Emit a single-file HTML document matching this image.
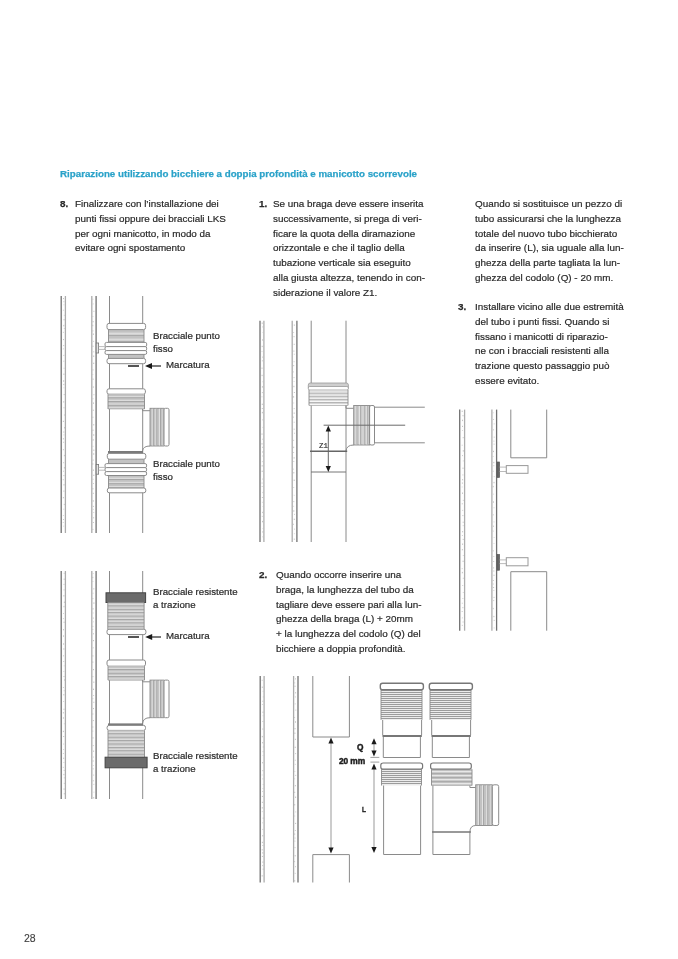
<!DOCTYPE html>
<html><head><meta charset="utf-8">
<style>
html,body{margin:0;padding:0;background:#fff;}
body{width:678px;height:959px;position:relative;overflow:hidden;font-family:"Liberation Sans",sans-serif;color:#2e2e2e;}
.t{position:absolute;font-size:9.9px;line-height:14.75px;white-space:nowrap;will-change:transform;-webkit-text-stroke:0.2px #262626;color:#2a2a2a;}
.n{position:absolute;font-size:9.9px;font-weight:bold;line-height:14.75px;will-change:transform;color:#2a2a2a;-webkit-text-stroke:0.25px #262626;}
.h{position:absolute;left:59.5px;top:167px;font-size:9.75px;will-change:transform;-webkit-text-stroke:0.25px #2aa2c9;font-weight:bold;color:#2aa2c9;white-space:nowrap;line-height:14px;}
.lbl{position:absolute;font-size:9.7px;line-height:12.6px;white-space:nowrap;color:#2a2a2a;will-change:transform;-webkit-text-stroke:0.2px #262626;}
.dim{position:absolute;font-size:8px;font-weight:bold;white-space:nowrap;color:#1e1e1e;line-height:10px;will-change:transform;-webkit-text-stroke:0.45px #1e1e1e;}
svg{position:absolute;left:0;top:0;}
</style></head><body><div id="w" style="position:absolute;left:0;top:0;width:678px;height:959px;filter:blur(0.35px)">
<svg width="678" height="959" viewBox="0 0 678 959">
<line x1="65.4" y1="296" x2="65.4" y2="533" stroke="#acacac" stroke-width="1.3"/>
<line x1="61.2" y1="296" x2="61.2" y2="533" stroke="#707070" stroke-width="1.3"/>
<path d="M63.5,298.0v1.1M63.9,301.3v0.9M63.9,304.6v0.6M63.4,309.8v0.7M64.3,314.9v0.7M64.1,319.0v1.4M63.8,324.9v1.4M64.3,328.1v0.8M63.4,331.9v0.8M63.5,339.0v1.1M63.7,345.1v1.0M63.4,348.5v0.8M63.8,354.9v0.9M63.8,360.8v0.8M64.1,367.8v0.8M63.9,373.6v1.3M63.6,380.3v1.4M63.8,383.9v1.2M63.9,387.6v0.6M64.2,394.0v1.1M63.7,401.3v1.2M64.0,407.3v1.0M64.4,414.5v1.0M63.4,420.8v1.2M64.5,427.1v1.3M63.8,431.5v1.1M63.9,434.6v0.7M63.4,438.2v1.2M63.6,441.8v0.9M63.4,449.2v1.0M64.4,454.9v1.3M63.6,462.3v0.9M64.4,467.1v1.4M63.5,470.8v0.8M63.9,475.0v1.1M63.3,479.3v0.9M64.0,484.1v1.4M63.9,490.6v1.1M63.4,497.0v1.3M64.3,503.9v1.2M63.8,508.8v0.7M63.4,515.0v0.7M63.5,519.1v0.9M63.3,522.3v0.7M63.7,525.8v0.6" stroke="#bdbdbd" stroke-width="0.9" fill="none"/>
<line x1="91.8" y1="296" x2="91.8" y2="533" stroke="#acacac" stroke-width="1.3"/>
<line x1="96.1" y1="296" x2="96.1" y2="533" stroke="#707070" stroke-width="1.3"/>
<path d="M92.9,298.8v0.8M93.2,303.6v0.7M93.9,310.8v1.0M92.9,316.2v0.7M93.1,321.0v1.3M92.8,324.8v1.4M92.9,330.4v1.0M93.4,333.5v1.4M93.6,340.9v0.8M93.0,345.7v1.2M93.7,351.4v0.9M93.7,355.5v1.4M93.7,362.7v1.3M93.0,369.4v1.0M92.8,374.2v0.6M93.1,378.6v1.2M93.3,386.4v1.3M93.9,394.3v0.9M93.0,398.4v0.8M93.5,402.5v1.3M93.3,409.7v1.1M92.9,416.7v1.1M93.7,424.2v1.2M93.0,429.6v1.2M93.7,434.3v1.4M93.2,439.2v1.4M93.0,445.9v0.7M93.8,449.6v1.2M93.7,453.3v1.4M93.2,459.6v1.0M92.8,463.3v1.4M93.4,469.5v1.3M93.8,474.7v1.3M93.1,478.8v0.8M93.5,483.0v0.8M92.9,488.1v1.3M93.3,492.8v1.1M93.3,500.3v1.3M93.4,505.9v1.0M93.3,508.9v0.7M93.7,512.0v0.7M93.6,517.3v1.0M93.4,522.0v1.0M92.9,528.9v1.0" stroke="#bdbdbd" stroke-width="0.9" fill="none"/>
<line x1="109.5" y1="296" x2="109.5" y2="533" stroke="#8a8a8a" stroke-width="1.0"/>
<line x1="142.7" y1="296" x2="142.7" y2="533" stroke="#8a8a8a" stroke-width="1.0"/>
<rect x="108.5" y="329.6" width="35.5" height="12.799999999999955" fill="#c2c2c2" stroke="none"/>
<rect x="108.5" y="332.6" width="35.5" height="2.28" fill="#dcdcdc"/>
<rect x="108.5" y="334.88" width="35.5" height="0.7" fill="#999"/>
<rect x="108.5" y="338.6" width="35.5" height="2.28" fill="#dcdcdc"/>
<rect x="108.5" y="340.88" width="35.5" height="0.7" fill="#999"/>
<line x1="108.5" y1="329.6" x2="108.5" y2="342.4" stroke="#8a8a8a" stroke-width="0.9"/>
<line x1="144" y1="329.6" x2="144" y2="342.4" stroke="#8a8a8a" stroke-width="0.9"/>
<rect x="108.5" y="354.4" width="35.5" height="4.0" fill="#c2c2c2" stroke="none"/>
<line x1="108.5" y1="354.4" x2="108.5" y2="358.4" stroke="#8a8a8a" stroke-width="0.9"/>
<line x1="144" y1="354.4" x2="144" y2="358.4" stroke="#8a8a8a" stroke-width="0.9"/>
<rect x="107" y="323.4" width="38.6" height="6.2" fill="#fff" stroke="#8a8a8a" stroke-width="1.0" rx="2"/>
<rect x="105" y="342.4" width="41.7" height="4.2" fill="#fff" stroke="#8a8a8a" stroke-width="1.0" rx="1.5"/>
<rect x="105" y="346.6" width="41.7" height="4.0" fill="#fff" stroke="#8a8a8a" stroke-width="1.0" rx="1.5"/>
<rect x="105" y="350.6" width="41.7" height="3.8" fill="#fff" stroke="#8a8a8a" stroke-width="1.0" rx="1.5"/>
<rect x="107" y="358.4" width="38.6" height="5.3" fill="#fff" stroke="#8a8a8a" stroke-width="1.0" rx="2"/>
<rect x="96.2" y="343" width="2.4" height="10" fill="#e8e8e8" stroke="#777" stroke-width="0.8" rx="0"/>
<line x1="98.6" y1="346.6" x2="105" y2="346.6" stroke="#aaa" stroke-width="0.8"/>
<line x1="98.6" y1="349.4" x2="105" y2="349.4" stroke="#aaa" stroke-width="0.8"/>
<rect x="128" y="365" width="11" height="2" fill="#555"/>
<line x1="148" y1="366" x2="161" y2="366" stroke="#222" stroke-width="1.2"/>
<polygon points="145,366 152.0,363.0 152.0,369.0" fill="#1a1a1a"/>
<rect x="107" y="388.8" width="38.4" height="5.4" fill="#fff" stroke="#8a8a8a" stroke-width="1.0" rx="2"/>
<rect x="108" y="394.2" width="36.5" height="14.800000000000011" fill="#c2c2c2" stroke="none"/>
<rect x="108" y="396.05" width="36.5" height="1.41" fill="#dcdcdc"/>
<rect x="108" y="397.46" width="36.5" height="0.7" fill="#999"/>
<rect x="108" y="399.75" width="36.5" height="1.41" fill="#dcdcdc"/>
<rect x="108" y="401.16" width="36.5" height="0.7" fill="#999"/>
<rect x="108" y="403.45" width="36.5" height="1.41" fill="#dcdcdc"/>
<rect x="108" y="404.86" width="36.5" height="0.7" fill="#999"/>
<rect x="108" y="407.15" width="36.5" height="1.41" fill="#dcdcdc"/>
<rect x="108" y="408.56" width="36.5" height="0.7" fill="#999"/>
<line x1="108" y1="394.2" x2="108" y2="409" stroke="#8a8a8a" stroke-width="0.9"/>
<line x1="144.5" y1="394.2" x2="144.5" y2="409" stroke="#8a8a8a" stroke-width="0.9"/>
<path d="M142.5,409 V410.7 H150" fill="none" stroke="#8a8a8a" stroke-width="1"/>
<rect x="150" y="408.3" width="14" height="37.69999999999999" fill="#c4c4c4" stroke="#8a8a8a" stroke-width="0.9"/>
<rect x="151.8" y="408.8" width="1.08" height="36.69999999999999" fill="#e0e0e0"/>
<rect x="152.88" y="408.8" width="0.7" height="36.69999999999999" fill="#999"/>
<rect x="155.4" y="408.8" width="1.08" height="36.69999999999999" fill="#e0e0e0"/>
<rect x="156.48" y="408.8" width="0.7" height="36.69999999999999" fill="#999"/>
<rect x="159.0" y="408.8" width="1.08" height="36.69999999999999" fill="#e0e0e0"/>
<rect x="160.08" y="408.8" width="0.7" height="36.69999999999999" fill="#999"/>
<rect x="162.6" y="408.8" width="1.08" height="36.69999999999999" fill="#e0e0e0"/>
<rect x="163.68" y="408.8" width="0.7" height="36.69999999999999" fill="#999"/>
<rect x="164" y="408.3" width="5" height="37.7" fill="#fff" stroke="#8a8a8a" stroke-width="1.0" rx="1.5"/>
<path d="M142.5,451 Q143,446 150,446" fill="none" stroke="#8a8a8a" stroke-width="1"/>
<rect x="108" y="451" width="35" height="2.4" fill="#7a7a7a"/>
<rect x="108.5" y="459.2" width="35.5" height="4.400000000000034" fill="#c2c2c2" stroke="none"/>
<line x1="108.5" y1="459.2" x2="108.5" y2="463.6" stroke="#8a8a8a" stroke-width="0.9"/>
<line x1="144" y1="459.2" x2="144" y2="463.6" stroke="#8a8a8a" stroke-width="0.9"/>
<rect x="108.5" y="475.5" width="35.5" height="12.5" fill="#c2c2c2" stroke="none"/>
<rect x="108.5" y="477.6" width="35.5" height="1.6" fill="#dcdcdc"/>
<rect x="108.5" y="479.2" width="35.5" height="0.7" fill="#999"/>
<rect x="108.5" y="481.8" width="35.5" height="1.6" fill="#dcdcdc"/>
<rect x="108.5" y="483.4" width="35.5" height="0.7" fill="#999"/>
<rect x="108.5" y="486.0" width="35.5" height="1.6" fill="#dcdcdc"/>
<rect x="108.5" y="487.6" width="35.5" height="0.7" fill="#999"/>
<line x1="108.5" y1="475.5" x2="108.5" y2="488" stroke="#8a8a8a" stroke-width="0.9"/>
<line x1="144" y1="475.5" x2="144" y2="488" stroke="#8a8a8a" stroke-width="0.9"/>
<rect x="107.3" y="453.4" width="38.5" height="5.8" fill="#fff" stroke="#8a8a8a" stroke-width="1.0" rx="2"/>
<rect x="105" y="463.6" width="41.6" height="4.0" fill="#fff" stroke="#8a8a8a" stroke-width="1.0" rx="1.5"/>
<rect x="105" y="467.6" width="41.6" height="4.0" fill="#fff" stroke="#8a8a8a" stroke-width="1.0" rx="1.5"/>
<rect x="105" y="471.6" width="41.6" height="3.9" fill="#fff" stroke="#8a8a8a" stroke-width="1.0" rx="1.5"/>
<rect x="107.3" y="488" width="38.5" height="4.8" fill="#fff" stroke="#8a8a8a" stroke-width="1.0" rx="2"/>
<rect x="96.2" y="464.5" width="2.4" height="9.7" fill="#e8e8e8" stroke="#777" stroke-width="0.8" rx="0"/>
<line x1="98.6" y1="467.4" x2="105" y2="467.4" stroke="#aaa" stroke-width="0.8"/>
<line x1="98.6" y1="470.2" x2="105" y2="470.2" stroke="#aaa" stroke-width="0.8"/>
<line x1="65.4" y1="571" x2="65.4" y2="799" stroke="#acacac" stroke-width="1.3"/>
<line x1="61.2" y1="571" x2="61.2" y2="799" stroke="#707070" stroke-width="1.3"/>
<path d="M64.2,572.8v1.0M64.2,578.6v1.3M64.0,583.9v1.0M64.1,589.4v1.0M63.9,595.1v1.4M64.4,601.6v1.4M64.0,605.9v1.4M63.5,613.1v0.7M63.4,618.3v0.8M64.1,621.7v1.2M63.5,629.1v1.2M63.5,635.4v1.3M63.6,643.3v1.4M63.9,648.3v1.4M63.5,655.4v0.9M63.7,661.0v0.8M64.2,665.6v0.6M63.8,671.4v0.6M64.0,676.0v1.0M64.5,679.4v1.2M63.4,687.2v0.8M64.2,690.4v0.8M63.8,694.1v1.3M63.6,701.1v0.7M64.0,708.7v1.2M63.4,712.2v1.2M63.4,717.3v1.4M64.3,723.5v0.7M63.4,730.8v1.3M63.7,736.0v1.0M63.6,743.7v0.7M63.6,749.3v0.7M63.4,753.1v0.8M63.7,757.7v1.2M63.9,762.1v0.7M63.3,766.9v0.8M64.2,769.9v1.0M63.9,773.9v1.3M64.3,777.4v0.9M64.3,782.9v0.9M64.1,788.4v1.4M64.3,793.1v1.2" stroke="#bdbdbd" stroke-width="0.9" fill="none"/>
<line x1="91.8" y1="571" x2="91.8" y2="799" stroke="#acacac" stroke-width="1.3"/>
<line x1="96.1" y1="571" x2="96.1" y2="799" stroke="#707070" stroke-width="1.3"/>
<path d="M93.2,573.2v0.6M92.8,576.9v1.2M92.9,581.1v0.7M93.8,588.3v1.1M93.0,592.8v0.8M92.9,598.1v1.0M93.9,602.4v1.4M93.0,608.1v1.4M93.2,612.7v0.6M93.3,617.6v1.0M93.4,621.6v0.6M92.9,625.9v0.9M92.8,629.1v0.8M93.5,633.3v1.0M93.5,640.0v1.2M93.2,647.4v0.9M92.9,655.3v1.2M92.8,661.5v1.3M93.5,669.0v1.2M92.9,676.1v1.0M93.8,681.6v1.2M93.5,688.7v1.3M93.6,695.1v0.8M92.9,698.3v0.9M93.8,701.8v1.0M93.5,708.0v1.1M92.8,713.4v1.2M93.4,720.1v1.0M92.8,726.4v1.2M92.8,730.7v0.8M93.0,737.3v1.2M93.3,745.2v0.9M93.6,750.6v1.2M93.5,756.7v0.7M93.1,760.4v1.2M93.4,765.0v0.6M93.1,768.3v1.1M93.6,774.7v0.8M93.3,780.3v1.0M93.8,783.9v0.8M93.9,791.8v0.6M93.7,797.1v1.4" stroke="#bdbdbd" stroke-width="0.9" fill="none"/>
<line x1="109.5" y1="571" x2="109.5" y2="799" stroke="#8a8a8a" stroke-width="1.0"/>
<line x1="142.7" y1="571" x2="142.7" y2="799" stroke="#8a8a8a" stroke-width="1.0"/>
<rect x="106" y="592.8" width="39.6" height="9.7" fill="#6b6b6b" stroke="#444" stroke-width="1" rx="0"/>
<rect x="107.8" y="602.5" width="36.3" height="26.700000000000045" fill="#cacaca" stroke="none"/>
<rect x="107.8" y="604.2" width="36.3" height="1.29" fill="#dcdcdc"/>
<rect x="107.8" y="605.49" width="36.3" height="0.7" fill="#999"/>
<rect x="107.8" y="607.6" width="36.3" height="1.29" fill="#dcdcdc"/>
<rect x="107.8" y="608.89" width="36.3" height="0.7" fill="#999"/>
<rect x="107.8" y="611.0" width="36.3" height="1.29" fill="#dcdcdc"/>
<rect x="107.8" y="612.29" width="36.3" height="0.7" fill="#999"/>
<rect x="107.8" y="614.4" width="36.3" height="1.29" fill="#dcdcdc"/>
<rect x="107.8" y="615.69" width="36.3" height="0.7" fill="#999"/>
<rect x="107.8" y="617.8" width="36.3" height="1.29" fill="#dcdcdc"/>
<rect x="107.8" y="619.09" width="36.3" height="0.7" fill="#999"/>
<rect x="107.8" y="621.2" width="36.3" height="1.29" fill="#dcdcdc"/>
<rect x="107.8" y="622.49" width="36.3" height="0.7" fill="#999"/>
<rect x="107.8" y="624.6" width="36.3" height="1.29" fill="#dcdcdc"/>
<rect x="107.8" y="625.89" width="36.3" height="0.7" fill="#999"/>
<rect x="107.8" y="628.0" width="36.3" height="1.29" fill="#dcdcdc"/>
<rect x="107.8" y="629.29" width="36.3" height="0.7" fill="#999"/>
<line x1="107.8" y1="602.5" x2="107.8" y2="629.2" stroke="#8a8a8a" stroke-width="0.9"/>
<line x1="144.1" y1="602.5" x2="144.1" y2="629.2" stroke="#8a8a8a" stroke-width="0.9"/>
<rect x="107" y="629.2" width="38.9" height="5.4" fill="#fff" stroke="#8a8a8a" stroke-width="1.0" rx="2"/>
<rect x="128" y="636" width="11" height="2" fill="#555"/>
<line x1="148" y1="637" x2="161" y2="637" stroke="#222" stroke-width="1.2"/>
<polygon points="145.2,637 152.2,634.0 152.2,640.0" fill="#1a1a1a"/>
<rect x="107" y="660" width="38.5" height="6.2" fill="#fff" stroke="#8a8a8a" stroke-width="1.0" rx="2"/>
<rect x="108" y="666.2" width="36.5" height="13.899999999999977" fill="#c4c4c4" stroke="none"/>
<rect x="108" y="667.95" width="36.5" height="1.33" fill="#dcdcdc"/>
<rect x="108" y="669.28" width="36.5" height="0.7" fill="#999"/>
<rect x="108" y="671.45" width="36.5" height="1.33" fill="#dcdcdc"/>
<rect x="108" y="672.78" width="36.5" height="0.7" fill="#999"/>
<rect x="108" y="674.95" width="36.5" height="1.33" fill="#dcdcdc"/>
<rect x="108" y="676.28" width="36.5" height="0.7" fill="#999"/>
<rect x="108" y="678.45" width="36.5" height="1.33" fill="#dcdcdc"/>
<rect x="108" y="679.78" width="36.5" height="0.7" fill="#999"/>
<line x1="108" y1="666.2" x2="108" y2="680.1" stroke="#8a8a8a" stroke-width="0.9"/>
<line x1="144.5" y1="666.2" x2="144.5" y2="680.1" stroke="#8a8a8a" stroke-width="0.9"/>
<path d="M142.5,680.1 V681.8 H150" fill="none" stroke="#8a8a8a" stroke-width="1"/>
<rect x="150" y="680.1" width="14" height="37.60000000000002" fill="#c4c4c4" stroke="#8a8a8a" stroke-width="0.9"/>
<rect x="151.8" y="680.6" width="1.08" height="36.60000000000002" fill="#e0e0e0"/>
<rect x="152.88" y="680.6" width="0.7" height="36.60000000000002" fill="#999"/>
<rect x="155.4" y="680.6" width="1.08" height="36.60000000000002" fill="#e0e0e0"/>
<rect x="156.48" y="680.6" width="0.7" height="36.60000000000002" fill="#999"/>
<rect x="159.0" y="680.6" width="1.08" height="36.60000000000002" fill="#e0e0e0"/>
<rect x="160.08" y="680.6" width="0.7" height="36.60000000000002" fill="#999"/>
<rect x="162.6" y="680.6" width="1.08" height="36.60000000000002" fill="#e0e0e0"/>
<rect x="163.68" y="680.6" width="0.7" height="36.60000000000002" fill="#999"/>
<rect x="164" y="680.1" width="5" height="37.6" fill="#fff" stroke="#8a8a8a" stroke-width="1.0" rx="1.5"/>
<path d="M142.5,723.6 Q143,717.7 150,717.7" fill="none" stroke="#8a8a8a" stroke-width="1"/>
<rect x="108" y="723.4" width="35" height="2.2" fill="#7a7a7a"/>
<rect x="107.1" y="725.4" width="38.4" height="5" fill="#fff" stroke="#8a8a8a" stroke-width="1.0" rx="2"/>
<rect x="108" y="730.4" width="36.5" height="26.800000000000068" fill="#cacaca" stroke="none"/>
<rect x="108" y="732.1" width="36.5" height="1.29" fill="#dcdcdc"/>
<rect x="108" y="733.39" width="36.5" height="0.7" fill="#999"/>
<rect x="108" y="735.5" width="36.5" height="1.29" fill="#dcdcdc"/>
<rect x="108" y="736.79" width="36.5" height="0.7" fill="#999"/>
<rect x="108" y="738.9" width="36.5" height="1.29" fill="#dcdcdc"/>
<rect x="108" y="740.19" width="36.5" height="0.7" fill="#999"/>
<rect x="108" y="742.3" width="36.5" height="1.29" fill="#dcdcdc"/>
<rect x="108" y="743.59" width="36.5" height="0.7" fill="#999"/>
<rect x="108" y="745.7" width="36.5" height="1.29" fill="#dcdcdc"/>
<rect x="108" y="746.99" width="36.5" height="0.7" fill="#999"/>
<rect x="108" y="749.1" width="36.5" height="1.29" fill="#dcdcdc"/>
<rect x="108" y="750.39" width="36.5" height="0.7" fill="#999"/>
<rect x="108" y="752.5" width="36.5" height="1.29" fill="#dcdcdc"/>
<rect x="108" y="753.79" width="36.5" height="0.7" fill="#999"/>
<rect x="108" y="755.9" width="36.5" height="1.29" fill="#dcdcdc"/>
<rect x="108" y="757.19" width="36.5" height="0.7" fill="#999"/>
<line x1="108" y1="730.4" x2="108" y2="757.2" stroke="#8a8a8a" stroke-width="0.9"/>
<line x1="144.5" y1="730.4" x2="144.5" y2="757.2" stroke="#8a8a8a" stroke-width="0.9"/>
<rect x="105.1" y="757.2" width="42" height="10.6" fill="#6b6b6b" stroke="#444" stroke-width="1" rx="0"/>
<line x1="263.9" y1="320.7" x2="263.9" y2="542" stroke="#acacac" stroke-width="1.3"/>
<line x1="260" y1="320.7" x2="260" y2="542" stroke="#707070" stroke-width="1.3"/>
<path d="M262.2,322.5v1.4M262.6,326.6v0.7M263.1,332.2v0.7M262.6,339.3v1.3M262.2,345.8v1.3M262.0,351.2v0.6M262.5,356.7v0.8M262.4,360.4v0.9M262.0,367.6v1.2M262.1,374.8v1.3M263.0,381.4v0.8M262.4,386.2v1.4M262.4,392.2v0.9M262.0,396.5v0.7M262.3,403.7v1.3M262.3,408.0v1.0M262.4,411.9v1.4M262.9,419.3v1.1M263.1,426.9v1.0M262.0,433.5v1.2M262.9,438.7v1.1M262.0,443.2v1.3M262.5,446.8v0.9M262.8,451.3v1.4M262.7,455.6v0.8M262.4,461.4v0.7M262.2,465.2v1.3M262.2,470.7v1.3M262.5,478.7v0.7M262.1,482.6v0.9M262.2,486.1v0.8M263.0,491.9v1.2M262.4,497.0v1.0M262.4,501.9v0.6M263.1,506.3v0.7M262.7,511.8v1.3M262.3,515.9v0.8M262.5,520.9v1.4M263.0,528.1v0.6M262.8,531.3v1.3M262.7,536.6v0.6" stroke="#bdbdbd" stroke-width="0.9" fill="none"/>
<line x1="292.2" y1="320.7" x2="292.2" y2="542" stroke="#acacac" stroke-width="1.3"/>
<line x1="296.9" y1="320.7" x2="296.9" y2="542" stroke="#707070" stroke-width="1.3"/>
<path d="M294.3,324.5v1.3M293.6,332.3v0.7M294.0,336.1v1.1M294.2,343.8v1.1M293.9,350.6v1.0M294.3,353.8v0.8M294.1,361.4v0.8M293.7,365.1v1.1M293.5,371.6v0.7M294.0,377.2v0.9M294.1,381.3v0.6M293.9,385.8v1.4M294.4,392.0v1.0M293.6,396.2v1.4M293.7,402.7v0.6M294.2,408.2v0.9M294.2,412.5v1.3M293.4,416.7v0.9M294.2,421.8v0.8M294.2,428.7v1.0M294.5,432.8v0.8M293.6,439.9v0.8M293.7,446.7v1.4M293.6,452.1v0.8M294.1,457.2v1.4M293.8,461.0v0.8M293.5,468.8v0.6M293.8,472.1v1.3M294.2,479.6v1.4M293.7,487.2v0.7M294.2,494.9v0.6M293.8,501.2v0.9M293.6,505.9v0.6M293.8,510.3v1.4M294.5,513.9v0.8M294.3,518.7v1.3M293.4,523.8v1.0M294.5,528.7v0.8M294.4,533.5v0.6M294.3,538.6v1.2" stroke="#bdbdbd" stroke-width="0.9" fill="none"/>
<line x1="311.2" y1="320.7" x2="311.2" y2="542" stroke="#8a8a8a" stroke-width="1.0"/>
<line x1="346" y1="320.7" x2="346" y2="542" stroke="#8a8a8a" stroke-width="1.0"/>
<rect x="308.3" y="383" width="40.1" height="7" fill="#cfcfcf" stroke="#999" stroke-width="0.8" rx="2"/>
<rect x="308.3" y="386.5" width="40.1" height="3.5" fill="#fff" stroke="#999" stroke-width="0.8" rx="1.5"/>
<rect x="309" y="390" width="39" height="15.399999999999977" fill="#d4d4d4" stroke="none"/>
<rect x="309" y="391.55" width="39" height="1.18" fill="#f7f7f7"/>
<rect x="309" y="392.73" width="39" height="0.7" fill="#a8a8a8"/>
<rect x="309" y="394.65" width="39" height="1.18" fill="#f7f7f7"/>
<rect x="309" y="395.83" width="39" height="0.7" fill="#a8a8a8"/>
<rect x="309" y="397.75" width="39" height="1.18" fill="#f7f7f7"/>
<rect x="309" y="398.93" width="39" height="0.7" fill="#a8a8a8"/>
<rect x="309" y="400.85" width="39" height="1.18" fill="#f7f7f7"/>
<rect x="309" y="402.03" width="39" height="0.7" fill="#a8a8a8"/>
<rect x="309" y="403.95" width="39" height="1.18" fill="#f7f7f7"/>
<rect x="309" y="405.13" width="39" height="0.7" fill="#a8a8a8"/>
<line x1="309" y1="390" x2="309" y2="405.4" stroke="#8a8a8a" stroke-width="0.9"/>
<line x1="348" y1="390" x2="348" y2="405.4" stroke="#8a8a8a" stroke-width="0.9"/>
<path d="M346,405.4 V408.3 H353.7" fill="none" stroke="#8a8a8a" stroke-width="1"/>
<rect x="353.7" y="405.5" width="15.900000000000034" height="39.5" fill="#cacaca" stroke="#8a8a8a" stroke-width="0.9"/>
<rect x="355.5" y="406.0" width="1.08" height="38.5" fill="#e6e6e6"/>
<rect x="356.58" y="406.0" width="0.7" height="38.5" fill="#a0a0a0"/>
<rect x="359.1" y="406.0" width="1.08" height="38.5" fill="#e6e6e6"/>
<rect x="360.18" y="406.0" width="0.7" height="38.5" fill="#a0a0a0"/>
<rect x="362.7" y="406.0" width="1.08" height="38.5" fill="#e6e6e6"/>
<rect x="363.78" y="406.0" width="0.7" height="38.5" fill="#a0a0a0"/>
<rect x="366.3" y="406.0" width="1.08" height="38.5" fill="#e6e6e6"/>
<rect x="367.38" y="406.0" width="0.7" height="38.5" fill="#a0a0a0"/>
<rect x="369.6" y="405.5" width="4.9" height="39.5" fill="#fff" stroke="#8a8a8a" stroke-width="1.0" rx="1.5"/>
<line x1="374.5" y1="407.2" x2="424.8" y2="407.2" stroke="#8a8a8a" stroke-width="1.0"/>
<line x1="374.5" y1="442.8" x2="424.8" y2="442.8" stroke="#8a8a8a" stroke-width="1.0"/>
<line x1="323.6" y1="425.2" x2="405.2" y2="425.2" stroke="#6a6a6a" stroke-width="1"/>
<path d="M346,451 Q346.5,445 353.7,445" fill="none" stroke="#8a8a8a" stroke-width="1"/>
<line x1="310" y1="451.2" x2="347.2" y2="451.2" stroke="#666" stroke-width="1.6"/>
<line x1="311" y1="472" x2="346" y2="472" stroke="#777" stroke-width="1"/>
<line x1="328.3" y1="430" x2="328.3" y2="467" stroke="#666" stroke-width="1"/>
<polygon points="328.3,425.6 325.7,431.6 330.90000000000003,431.6" fill="#1a1a1a"/>
<polygon points="328.3,472 325.7,466.0 330.90000000000003,466.0" fill="#1a1a1a"/>
<line x1="464.6" y1="409.6" x2="464.6" y2="630.7" stroke="#acacac" stroke-width="1.3"/>
<line x1="459.7" y1="409.6" x2="459.7" y2="630.7" stroke="#707070" stroke-width="1.3"/>
<path d="M462.2,410.7v1.3M463.0,415.0v1.3M462.5,419.7v1.4M462.5,425.8v1.2M462.5,430.4v0.6M463.2,437.1v1.1M462.2,444.8v0.8M463.3,450.2v1.4M462.5,455.2v0.9M463.3,460.6v0.7M463.0,467.6v1.3M462.9,474.5v0.9M462.6,479.1v1.2M462.4,482.5v1.2M462.2,486.7v0.6M462.5,492.5v1.4M463.3,499.9v0.8M462.3,503.3v1.0M462.7,509.9v0.8M462.9,515.0v1.1M463.2,521.7v1.1M463.2,525.3v0.8M462.6,531.1v1.2M462.4,535.1v0.8M463.2,538.9v1.1M462.6,543.5v1.4M462.4,549.1v1.2M463.3,555.3v0.7M463.1,560.7v1.3M462.2,568.3v0.8M462.4,571.9v1.4M463.3,577.8v0.9M462.7,585.1v0.8M463.3,592.0v0.7M462.9,598.0v0.8M462.3,602.8v0.8M462.9,607.1v1.1M462.2,611.1v0.9M462.4,617.5v0.8M463.1,621.5v1.0M462.3,624.9v0.9" stroke="#bdbdbd" stroke-width="0.9" fill="none"/>
<line x1="491.9" y1="409.6" x2="491.9" y2="630.7" stroke="#acacac" stroke-width="1.3"/>
<line x1="496.6" y1="409.6" x2="496.6" y2="630.7" stroke="#707070" stroke-width="1.3"/>
<path d="M493.2,412.5v0.7M493.5,419.0v0.8M494.2,423.5v0.8M493.5,429.4v0.9M494.2,436.7v0.9M493.9,440.7v0.8M494.1,443.7v0.9M493.5,450.8v1.3M493.2,456.1v0.6M493.8,461.9v1.3M493.8,465.3v0.9M493.2,470.8v0.8M494.2,476.4v0.7M494.0,481.9v1.4M493.2,485.9v1.4M493.6,493.8v0.6M493.5,501.4v1.3M494.0,507.5v0.7M493.3,514.4v0.9M494.0,521.6v0.7M493.5,525.7v1.0M493.2,530.7v0.8M494.1,537.3v0.6M494.0,543.1v0.6M493.2,550.3v1.1M493.8,556.0v0.8M493.7,561.1v0.9M493.6,567.4v1.0M493.8,570.5v1.0M494.0,574.7v1.2M493.3,580.0v1.0M493.2,583.6v0.9M493.6,587.0v1.0M493.8,590.2v0.7M494.0,596.9v1.0M493.7,600.2v0.9M493.2,607.9v1.3M493.9,615.9v1.3M494.2,619.9v1.0M494.1,627.6v0.7" stroke="#bdbdbd" stroke-width="0.9" fill="none"/>
<path d="M510.8,409.6 V457.8 H546.7 V409.6" fill="none" stroke="#8a8a8a" stroke-width="1"/>
<path d="M510.8,630.7 V571.7 H546.7 V630.7" fill="none" stroke="#8a8a8a" stroke-width="1"/>
<rect x="497" y="462" width="2.5" height="15.399999999999977" fill="#666" stroke="#555" stroke-width="0.7" rx="0"/>
<line x1="499.5" y1="467.1" x2="506.3" y2="467.1" stroke="#aaa" stroke-width="0.8"/>
<line x1="499.5" y1="471.5" x2="506.3" y2="471.5" stroke="#aaa" stroke-width="0.8"/>
<rect x="506.3" y="465.6" width="21.7" height="7.699999999999989" fill="#fff" stroke="#999" stroke-width="1" rx="0"/>
<rect x="497" y="554.5" width="2.5" height="15.700000000000045" fill="#666" stroke="#555" stroke-width="0.7" rx="0"/>
<line x1="499.5" y1="559.9" x2="506.3" y2="559.9" stroke="#aaa" stroke-width="0.8"/>
<line x1="499.5" y1="563.6" x2="506.3" y2="563.6" stroke="#aaa" stroke-width="0.8"/>
<rect x="506.3" y="557.7" width="21.7" height="8.099999999999909" fill="#fff" stroke="#999" stroke-width="1" rx="0"/>
<line x1="264.1" y1="676" x2="264.1" y2="882.5" stroke="#acacac" stroke-width="1.3"/>
<line x1="260.2" y1="676" x2="260.2" y2="882.5" stroke="#707070" stroke-width="1.3"/>
<path d="M262.2,679.8v0.9M262.3,686.6v1.3M263.1,690.9v0.7M263.3,696.5v0.8M262.8,700.8v0.9M262.4,704.0v0.7M263.0,711.6v1.3M263.1,715.5v0.7M262.9,721.1v0.9M262.8,728.5v1.1M262.3,735.9v1.4M262.6,742.1v1.2M263.3,746.4v1.1M263.1,751.2v1.0M263.0,755.1v0.6M262.5,762.2v1.1M262.9,770.1v1.1M262.2,774.7v0.6M262.9,778.4v0.9M263.2,784.0v0.7M262.9,788.1v0.6M262.6,791.1v0.7M262.4,795.9v1.1M262.4,801.8v1.1M262.3,807.2v1.3M262.3,811.4v0.7M263.2,817.6v1.2M262.5,822.6v0.6M262.8,828.9v0.9M262.7,835.1v1.3M262.4,841.8v1.3M262.8,845.0v0.9M262.2,849.2v1.2M262.8,852.2v1.4M262.4,855.9v1.1M262.9,861.5v1.3M262.5,865.3v0.8M263.2,868.6v1.2M262.2,875.2v1.3" stroke="#bdbdbd" stroke-width="0.9" fill="none"/>
<line x1="293.6" y1="676" x2="293.6" y2="882.5" stroke="#acacac" stroke-width="1.3"/>
<line x1="298" y1="676" x2="298" y2="882.5" stroke="#707070" stroke-width="1.3"/>
<path d="M295.5,678.4v1.0M294.7,682.5v0.8M295.0,685.7v1.2M295.6,692.2v1.2M295.3,696.5v0.9M295.2,703.5v0.8M295.8,709.7v0.8M294.6,717.1v0.8M295.5,721.3v1.4M295.0,728.0v1.3M294.9,732.6v1.3M295.4,738.8v1.1M295.2,746.7v1.3M295.6,753.2v0.9M295.3,759.8v0.8M295.3,763.9v0.7M294.8,771.4v0.6M295.7,774.9v0.9M294.6,778.6v0.6M295.4,785.1v1.2M294.7,791.8v1.1M295.6,796.6v1.3M294.7,804.1v1.3M295.7,811.6v0.7M294.7,815.7v0.6M295.6,822.9v1.1M295.4,830.0v0.8M294.7,833.5v1.2M295.0,837.6v0.9M294.9,840.7v0.8M295.0,847.2v0.9M295.2,855.1v1.3M294.6,861.2v0.9M295.5,866.3v0.9M295.2,872.9v0.8M294.7,880.2v1.3" stroke="#bdbdbd" stroke-width="0.9" fill="none"/>
<path d="M312.8,676 V737 H349.4 V676" fill="none" stroke="#8a8a8a" stroke-width="1"/>
<path d="M312.8,882.5 V854.6 H349.4 V882.5" fill="none" stroke="#8a8a8a" stroke-width="1"/>
<line x1="331" y1="742" x2="331" y2="849" stroke="#999" stroke-width="1"/>
<polygon points="331,737.6 328.4,743.6 333.6,743.6" fill="#1a1a1a"/>
<polygon points="331,853.6 328.4,847.6 333.6,847.6" fill="#1a1a1a"/>
<line x1="374" y1="743" x2="374" y2="752" stroke="#999" stroke-width="1"/>
<polygon points="374,738.3 371.4,744.3 376.6,744.3" fill="#1a1a1a"/>
<polygon points="374,756.5 371.4,750.5 376.6,750.5" fill="#1a1a1a"/>
<line x1="370.4" y1="757.4" x2="379.3" y2="757.4" stroke="#888" stroke-width="0.8"/>
<line x1="370.4" y1="762.1" x2="379.3" y2="762.1" stroke="#888" stroke-width="0.8"/>
<line x1="374" y1="768" x2="374" y2="848" stroke="#999" stroke-width="1"/>
<polygon points="374,763.6 371.4,769.6 376.6,769.6" fill="#1a1a1a"/>
<polygon points="374,853 371.4,847.0 376.6,847.0" fill="#1a1a1a"/>
<path d="M383.3,757.5 V737 M420.4,737 V757.5 M383.3,757.5 H420.4" fill="none" stroke="#8a8a8a" stroke-width="1"/>
<path d="M382.7,719.8 V735.2 M421.6,719.8 V735.2" fill="none" stroke="#8a8a8a" stroke-width="1"/>
<rect x="382.5" y="735" width="39.3" height="2" fill="#777"/>
<rect x="381" y="689.7" width="41" height="30.09999999999991" fill="#ececec"/>
<rect x="381" y="690" width="41" height="1" fill="#9c9c9c"/>
<rect x="381" y="692" width="41" height="1" fill="#9c9c9c"/>
<rect x="381" y="694" width="41" height="1" fill="#9c9c9c"/>
<rect x="381" y="696" width="41" height="1" fill="#9c9c9c"/>
<rect x="381" y="698" width="41" height="1" fill="#9c9c9c"/>
<rect x="381" y="700" width="41" height="1" fill="#9c9c9c"/>
<rect x="381" y="702" width="41" height="1" fill="#9c9c9c"/>
<rect x="381" y="704" width="41" height="1" fill="#9c9c9c"/>
<rect x="381" y="706" width="41" height="1" fill="#9c9c9c"/>
<rect x="381" y="708" width="41" height="1" fill="#9c9c9c"/>
<rect x="381" y="710" width="41" height="1" fill="#9c9c9c"/>
<rect x="381" y="712" width="41" height="1" fill="#9c9c9c"/>
<rect x="381" y="714" width="41" height="1" fill="#9c9c9c"/>
<rect x="381" y="716" width="41" height="1" fill="#9c9c9c"/>
<rect x="381" y="718" width="41" height="1" fill="#9c9c9c"/>
<line x1="381" y1="689.7" x2="381" y2="719.8" stroke="#8a8a8a" stroke-width="0.9"/>
<line x1="422" y1="689.7" x2="422" y2="719.8" stroke="#8a8a8a" stroke-width="0.9"/>
<rect x="380.3" y="683.3" width="43.1" height="6.4" fill="#fff" stroke="#777" stroke-width="1.4" rx="2.2"/>
<path d="M432.3,757.5 V737 M469.4,737 V757.5 M432.3,757.5 H469.4" fill="none" stroke="#8a8a8a" stroke-width="1"/>
<path d="M431.7,719.8 V735.2 M470.6,719.8 V735.2" fill="none" stroke="#8a8a8a" stroke-width="1"/>
<rect x="431.5" y="735" width="39.3" height="2" fill="#777"/>
<rect x="430" y="689.7" width="41" height="30.09999999999991" fill="#ececec"/>
<rect x="430" y="690" width="41" height="1" fill="#9c9c9c"/>
<rect x="430" y="692" width="41" height="1" fill="#9c9c9c"/>
<rect x="430" y="694" width="41" height="1" fill="#9c9c9c"/>
<rect x="430" y="696" width="41" height="1" fill="#9c9c9c"/>
<rect x="430" y="698" width="41" height="1" fill="#9c9c9c"/>
<rect x="430" y="700" width="41" height="1" fill="#9c9c9c"/>
<rect x="430" y="702" width="41" height="1" fill="#9c9c9c"/>
<rect x="430" y="704" width="41" height="1" fill="#9c9c9c"/>
<rect x="430" y="706" width="41" height="1" fill="#9c9c9c"/>
<rect x="430" y="708" width="41" height="1" fill="#9c9c9c"/>
<rect x="430" y="710" width="41" height="1" fill="#9c9c9c"/>
<rect x="430" y="712" width="41" height="1" fill="#9c9c9c"/>
<rect x="430" y="714" width="41" height="1" fill="#9c9c9c"/>
<rect x="430" y="716" width="41" height="1" fill="#9c9c9c"/>
<rect x="430" y="718" width="41" height="1" fill="#9c9c9c"/>
<line x1="430" y1="689.7" x2="430" y2="719.8" stroke="#8a8a8a" stroke-width="0.9"/>
<line x1="471" y1="689.7" x2="471" y2="719.8" stroke="#8a8a8a" stroke-width="0.9"/>
<rect x="429.3" y="683.3" width="43.1" height="6.4" fill="#fff" stroke="#777" stroke-width="1.4" rx="2.2"/>
<rect x="381.5" y="769.2" width="40.0" height="16.299999999999955" fill="#ececec"/>
<rect x="381.5" y="769" width="40.0" height="1" fill="#9c9c9c"/>
<rect x="381.5" y="771" width="40.0" height="1" fill="#9c9c9c"/>
<rect x="381.5" y="773" width="40.0" height="1" fill="#9c9c9c"/>
<rect x="381.5" y="775" width="40.0" height="1" fill="#9c9c9c"/>
<rect x="381.5" y="777" width="40.0" height="1" fill="#9c9c9c"/>
<rect x="381.5" y="779" width="40.0" height="1" fill="#9c9c9c"/>
<rect x="381.5" y="781" width="40.0" height="1" fill="#9c9c9c"/>
<rect x="381.5" y="783" width="40.0" height="1" fill="#9c9c9c"/>
<line x1="381.5" y1="769.2" x2="381.5" y2="785.5" stroke="#8a8a8a" stroke-width="0.9"/>
<line x1="421.5" y1="769.2" x2="421.5" y2="785.5" stroke="#8a8a8a" stroke-width="0.9"/>
<rect x="380.8" y="763" width="41.8" height="6.2" fill="#fff" stroke="#777" stroke-width="1.2" rx="2.2"/>
<path d="M383.6,785.5 V854.5 H420.6 V785.5" fill="none" stroke="#8a8a8a" stroke-width="1"/>
<rect x="431.5" y="769.2" width="40.5" height="16.299999999999955" fill="#c0c0c0" stroke="none"/>
<rect x="431.5" y="771.2" width="40.5" height="1.52" fill="#f0f0f0"/>
<rect x="431.5" y="772.72" width="40.5" height="0.7" fill="#8e8e8e"/>
<rect x="431.5" y="775.2" width="40.5" height="1.52" fill="#f0f0f0"/>
<rect x="431.5" y="776.72" width="40.5" height="0.7" fill="#8e8e8e"/>
<rect x="431.5" y="779.2" width="40.5" height="1.52" fill="#f0f0f0"/>
<rect x="431.5" y="780.72" width="40.5" height="0.7" fill="#8e8e8e"/>
<rect x="431.5" y="783.2" width="40.5" height="1.52" fill="#f0f0f0"/>
<rect x="431.5" y="784.72" width="40.5" height="0.7" fill="#8e8e8e"/>
<line x1="431.5" y1="769.2" x2="431.5" y2="785.5" stroke="#8a8a8a" stroke-width="0.9"/>
<line x1="472" y1="769.2" x2="472" y2="785.5" stroke="#8a8a8a" stroke-width="0.9"/>
<rect x="430.6" y="763" width="40.7" height="6.2" fill="#fff" stroke="#777" stroke-width="1.2" rx="2.2"/>
<path d="M432.9,785.5 V854.5 H469.9 V832 Q470,825.5 475.7,825.5 M469.9,785.5 V787.5 H475.7" fill="none" stroke="#8a8a8a" stroke-width="1"/>
<rect x="475.7" y="784.8" width="16.600000000000023" height="40.700000000000045" fill="#c2c2c2" stroke="#8a8a8a" stroke-width="0.9"/>
<rect x="477.8" y="785.3" width="1.26" height="39.700000000000045" fill="#e2e2e2"/>
<rect x="479.06" y="785.3" width="0.7" height="39.700000000000045" fill="#999"/>
<rect x="482.0" y="785.3" width="1.26" height="39.700000000000045" fill="#e2e2e2"/>
<rect x="483.26" y="785.3" width="0.7" height="39.700000000000045" fill="#999"/>
<rect x="486.2" y="785.3" width="1.26" height="39.700000000000045" fill="#e2e2e2"/>
<rect x="487.46" y="785.3" width="0.7" height="39.700000000000045" fill="#999"/>
<rect x="490.4" y="785.3" width="1.26" height="39.700000000000045" fill="#e2e2e2"/>
<rect x="491.66" y="785.3" width="0.7" height="39.700000000000045" fill="#999"/>
<rect x="492.3" y="784.8" width="6.4" height="40.7" fill="#fff" stroke="#8a8a8a" stroke-width="1.0" rx="1.8"/>
<line x1="432.1" y1="832" x2="470.9" y2="832" stroke="#777" stroke-width="1.6"/>
</svg>
<div class="h">Riparazione utilizzando bicchiere a doppia profondità e manicotto scorrevole</div>

<div class="n" style="left:59.5px;top:196.7px;">8.</div>
<div class="t" style="left:74.8px;top:196.7px;">Finalizzare con l’installazione dei<br>punti fissi oppure dei bracciali LKS<br>per ogni manicotto, in modo da<br>evitare ogni spostamento</div>

<div class="n" style="left:259px;top:196.7px;">1.</div>
<div class="t" style="left:273px;top:196.7px;">Se una braga deve essere inserita<br>successivamente, si prega di veri-<br>ficare la quota della diramazione<br>orizzontale e che il taglio della<br>tubazione verticale sia eseguito<br>alla giusta altezza, tenendo in con-<br>siderazione il valore Z1.</div>

<div class="t" style="left:475px;top:196.7px;">Quando si sostituisce un pezzo di<br>tubo assicurarsi che la lunghezza<br>totale del nuovo tubo bicchierato<br>da inserire (L), sia uguale alla lun-<br>ghezza della parte tagliata la lun-<br>ghezza del codolo (Q) - 20 mm.</div>

<div class="n" style="left:457.5px;top:300.3px;">3.</div>
<div class="t" style="left:475px;top:300.3px;">Installare vicino alle due estremità<br>del tubo i punti fissi. Quando si<br>fissano i manicotti di riparazio-<br>ne con i bracciali resistenti alla<br>trazione questo passaggio può<br>essere evitato.</div>

<div class="n" style="left:258.5px;top:567.5px;">2.</div>
<div class="t" style="left:276.3px;top:567.5px;">Quando occorre inserire una<br>braga, la lunghezza del tubo da<br>tagliare deve essere pari alla lun-<br>ghezza della braga (L) + 20mm<br>+ la lunghezza del codolo (Q) del<br>bicchiere a doppia profondità.</div>

<div class="lbl" style="left:152.6px;top:330px;">Bracciale punto<br>fisso</div>
<div class="lbl" style="left:166px;top:358.5px;">Marcatura</div>
<div class="lbl" style="left:152.6px;top:458.3px;">Bracciale punto<br>fisso</div>

<div class="lbl" style="left:152.7px;top:586.3px;">Bracciale resistente<br>a trazione</div>
<div class="lbl" style="left:166px;top:630.4px;">Marcatura</div>
<div class="lbl" style="left:152.7px;top:750px;">Bracciale resistente<br>a trazione</div>

<div class="dim" style="left:319.3px;top:441px;font-weight:normal;font-family:'Liberation Mono',monospace;font-size:7.4px;-webkit-text-stroke:0.2px #333;color:#333;">Z1</div>
<div class="dim" style="left:357px;top:741.5px;font-size:8.3px;">Q</div>
<div class="dim" style="left:339.3px;top:755.8px;font-size:8.4px;letter-spacing:-0.1px;">20 mm</div>
<div class="dim" style="left:362.2px;top:804.5px;transform:scaleX(0.8);transform-origin:0 0;">L</div>

<div class="t" style="left:24px;top:930.5px;font-size:10.5px;color:#3c3c3c;-webkit-text-stroke:0.1px #3c3c3c;">28</div>
</div></body></html>
